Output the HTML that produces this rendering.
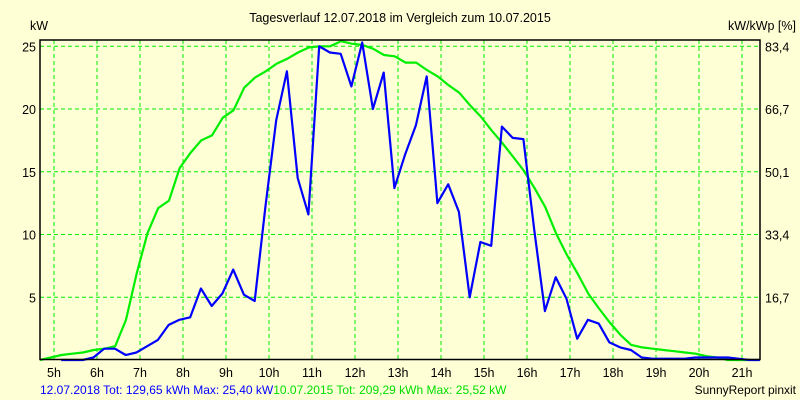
<!DOCTYPE html>
<html><head><meta charset="utf-8"><style>
body{margin:0;background:#ffffd6;}
svg{display:block;font-family:"Liberation Sans",sans-serif;}
</style></head><body>
<svg width="800" height="400" viewBox="0 0 800 400" id="c">
<rect x="0" y="0" width="800" height="400" fill="#ffffd6"/>
<text x="400" y="22" text-anchor="middle" font-size="12.5">Tagesverlauf 12.07.2018 im Vergleich zum 10.07.2015</text>
<text x="30" y="30" font-size="12.5">kW</text>
<text x="796" y="30" text-anchor="end" font-size="12.5">kW/kWp [%]</text>
<g id="grid"></g>
<g id="series"></g>
<rect x="40" y="40" width="720" height="319.5" fill="none" stroke="#000" stroke-width="1.5"/>
<g id="labels"></g>
<text x="40" y="394" font-size="12"><tspan fill="#0000ff">12.07.2018 Tot: 129,65 kWh Max: 25,40 kW</tspan><tspan fill="#00dd00">10.07.2015 Tot: 209,29 kWh Max: 25,52 kW</tspan></text>
<text x="796" y="394" text-anchor="end" font-size="12">SunnyReport pinxit</text>
</svg>
<script>
const hourTicks=[5,6,7,8,9,10,11,12,13,14,15,16,17,18,19,20,21];
const yTicks=[5,10,15,20,25];
const yTickLabels=["5","10","15","20","25"];
const y2TickLabels=["16,7","33,4","50,1","66,7","83,4"];
const blueStart=5.167;
const greenStart=4.674;
const stepH=0.25;
const blueValues=[0,0,0,0.2,0.9,0.9,0.4,0.6,1.1,1.6,2.8,3.2,3.4,5.7,4.3,5.3,7.2,5.2,4.7,12.2,19.1,23.0,14.5,11.6,25.0,24.5,24.4,21.8,25.3,20.0,22.9,13.7,16.4,18.7,22.6,12.5,14.0,11.8,5.0,9.4,9.1,18.6,17.7,17.6,10.4,3.9,6.6,4.9,1.7,3.2,2.9,1.4,1.0,0.8,0.2,0.1,0.1,0.1,0.1,0.2,0.2,0.2,0.2,0.1,0,0];
const greenValues=[0,0.2,0.4,0.5,0.6,0.8,0.9,1.1,3.2,6.9,10.1,12.1,12.7,15.3,16.5,17.5,17.9,19.3,19.9,21.7,22.5,23.0,23.6,24.0,24.5,24.9,25.0,25.0,25.4,25.2,25.1,24.8,24.3,24.2,23.7,23.7,23.1,22.6,21.9,21.3,20.3,19.4,18.3,17.3,16.2,15.1,13.7,12.2,10.1,8.4,6.9,5.3,4.1,3.0,2.0,1.2,1.0,0.9,0.8,0.7,0.6,0.5,0.3,0.2,0,0,0];
const NS="http://www.w3.org/2000/svg";
function xs(t){return 54+43*(t-5);}
function ys(v){return 360-12.55*v;}
const grid=document.getElementById('grid'),labels=document.getElementById('labels'),series=document.getElementById('series');
function mk(tag,attrs,parent){const e=document.createElementNS(NS,tag);for(const k in attrs)e.setAttribute(k,attrs[k]);parent.appendChild(e);return e;}
hourTicks.forEach(h=>{
  const l=mk('line',{x1:xs(h),x2:xs(h),y1:40,y2:359,stroke:'#00ee00','stroke-width':1,'stroke-dasharray':'4,3'},grid);
  
  
  const t=mk('text',{x:xs(h),y:377,'text-anchor':'middle','font-size':12.5},labels);
  t.textContent=h+'h';
  
  
});
yTicks.forEach((v,i)=>{
  const l=mk('line',{x1:40,x2:760,y1:ys(v),y2:ys(v),stroke:'#00ee00','stroke-width':1,'stroke-dasharray':'4,3'},grid);
  
  
  const t=mk('text',{x:36,y:ys(v)+5,'text-anchor':'end','font-size':12.5},labels);
  t.textContent=yTickLabels[i];
  
  
  const t2=mk('text',{x:765,y:ys(v)+5,'font-size':12.5},labels);
  t2.textContent=y2TickLabels[i];
  
  
});
function line(vals,start,color,name){
  const pts=vals.map((v,i)=>xs(start+i*stepH).toFixed(1)+','+ys(v).toFixed(1)).join(' ');
  const p=mk('polyline',{points:pts,fill:'none',stroke:color,'stroke-width':2.2,'stroke-linejoin':'round'},series);
  
  
}
line(greenValues,greenStart,'#00ee00','series-2015');
line(blueValues,blueStart,'#0000ff','series-2018');
</script>
</body></html>
